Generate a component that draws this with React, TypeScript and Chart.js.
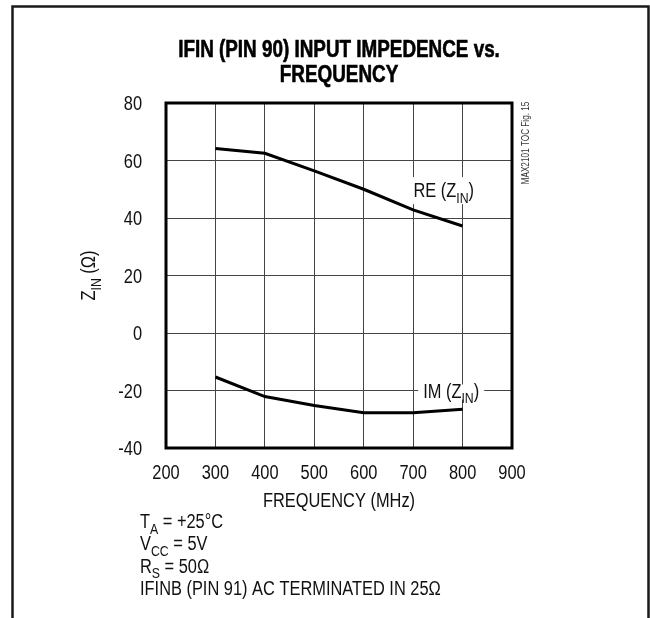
import React, { useEffect, useRef } from "react";
import { Chart, registerables } from "chart.js";

Chart.register(...registerables);

// ---- data ----
const frequencies = [300, 400, 500, 600, 700, 800];
const reZin = [64.2, 62.5, 56.4, 50, 42.8, 37.2];
const imZin = [-15.3, -22.1, -25.2, -27.7, -27.7, -26.5];
const xTickValues = [200, 300, 400, 500, 600, 700, 800, 900];
const yTickValues = [-40, -20, 0, 20, 40, 60, 80];

const titleLines = ["IFIN (PIN 90) INPUT IMPEDENCE vs.", "FREQUENCY"];
const xAxisTitle = "FREQUENCY (MHz)";
const sideNote = "MAX2101 TOC Fig. 15";

type Part = { t: string; sub?: boolean };
const yAxisTitle: Part[] = [{ t: "Z" }, { t: "IN", sub: true }, { t: " (Ω)" }];
const reLabel: Part[] = [{ t: "RE (Z" }, { t: "IN", sub: true }, { t: ")" }];
const imLabel: Part[] = [{ t: "IM (Z" }, { t: "IN", sub: true }, { t: ")" }];
const footnotes: Part[][] = [
  [{ t: "T" }, { t: "A", sub: true }, { t: " = +25°C" }],
  [{ t: "V" }, { t: "CC", sub: true }, { t: " = 5V" }],
  [{ t: "R" }, { t: "S", sub: true }, { t: " = 50Ω" }],
  [{ t: "IFINB (PIN 91) AC TERMINATED IN 25Ω" }],
];

const FONT = "'Liberation Sans', Arial, sans-serif";
const K = 0.82; // horizontal compression to emulate a narrow face

function measureRich(ctx: CanvasRenderingContext2D, parts: Part[], size: number) {
  const main = `${size}px ${FONT}`;
  const sub = `${Math.round(size * 0.75)}px ${FONT}`;
  return parts.map((p) => {
    ctx.font = p.sub ? sub : main;
    return ctx.measureText(p.t).width * K;
  });
}

function drawNarrow(ctx: CanvasRenderingContext2D, t: string, x: number, y: number) {
  ctx.save();
  ctx.translate(x, y);
  ctx.scale(K, 1);
  ctx.fillText(t, 0, 0);
  ctx.restore();
}

function drawRich(
  ctx: CanvasRenderingContext2D,
  parts: Part[],
  x: number,
  y: number,
  align: "left" | "center" | "right",
  size: number
) {
  const main = `${size}px ${FONT}`;
  const sub = `${Math.round(size * 0.75)}px ${FONT}`;
  const widths = measureRich(ctx, parts, size);
  const total = widths.reduce((a, b) => a + b, 0);
  let cx = align === "center" ? x - total / 2 : align === "right" ? x - total : x;
  ctx.textAlign = "left";
  ctx.textBaseline = "alphabetic";
  parts.forEach((p, i) => {
    ctx.font = p.sub ? sub : main;
    drawNarrow(ctx, p.t, cx, y + (p.sub ? size * 0.28 : 0));
    cx += widths[i];
  });
  return total;
}

const decorPlugin = {
  id: "decor",
  beforeDraw(chart: any) {
    const ctx: CanvasRenderingContext2D = chart.ctx;
    ctx.save();
    ctx.fillStyle = "#fff";
    ctx.fillRect(0, 0, chart.width, chart.height);
    ctx.strokeStyle = "#1a1a1a";
    ctx.lineWidth = 2.5;
    ctx.strokeRect(12.5, 6.5, 636, 700);
    ctx.restore();
  },
  afterDatasetsDraw(chart: any) {
    const ctx: CanvasRenderingContext2D = chart.ctx;
    const { left, right, top, bottom } = chart.chartArea;
    const xs = chart.scales.x;
    const ys = chart.scales.y;
    ctx.save();
    ctx.fillStyle = "#111";

    // curve labels with white backing
    const labels = [
      { parts: reLabel, x: 762, y: 49.7, padX: 5, padTop: 13, padBot: 14 },
      { parts: imLabel, x: 777, y: -20, padX: 5, padTop: 6, padBot: 9 },
    ];
    labels.forEach((l) => {
      const px = xs.getPixelForValue(l.x);
      const py = ys.getPixelForValue(l.y);
      const w = measureRich(ctx, l.parts, 20).reduce((a, b) => a + b, 0);
      ctx.fillStyle = "#fff";
      ctx.fillRect(px - w / 2 - l.padX, py - l.padTop, w + 2 * l.padX, l.padTop + l.padBot);
      ctx.fillStyle = "#111";
      drawRich(ctx, l.parts, px, py + 7, "center", 20);
    });

    // plot border
    ctx.strokeStyle = "#000";
    ctx.lineWidth = 3;
    ctx.strokeRect(left, top, right - left, bottom - top);

    // tick labels
    ctx.fillStyle = "#111";
    xTickValues.forEach((v) => {
      drawRich(ctx, [{ t: String(v) }], xs.getPixelForValue(v), bottom + 31, "center", 20);
    });
    yTickValues.forEach((v) => {
      drawRich(ctx, [{ t: String(v) }], left - 24, ys.getPixelForValue(v) + 7, "right", 20);
    });

    // x axis title
    drawRich(ctx, [{ t: xAxisTitle }], (left + right) / 2, bottom + 59, "center", 20);

    // title
    const cx = (left + right) / 2;
    ctx.fillStyle = "#000";
    ctx.strokeStyle = "#000";
    ctx.lineWidth = 0.6;
    ctx.textAlign = "center";
    ctx.textBaseline = "alphabetic";
    ctx.font = `bold 23px ${FONT}`;
    titleLines.forEach((line, i) => {
      ctx.save();
      ctx.translate(cx, 57 + i * 24.5);
      ctx.scale(K, 1);
      ctx.fillText(line, 0, 0);
      ctx.strokeText(line, 0, 0);
      ctx.restore();
    });

    // y axis title (rotated)
    ctx.fillStyle = "#111";
    ctx.save();
    ctx.translate(88, (top + bottom) / 2);
    ctx.rotate(-Math.PI / 2);
    drawRich(ctx, yAxisTitle, 0, 7, "center", 20);
    ctx.restore();

    // side note
    ctx.save();
    ctx.translate(right + 14, top + 40);
    ctx.rotate(-Math.PI / 2);
    ctx.fillStyle = "#333";
    drawRich(ctx, [{ t: sideNote }], 0, 3, "center", 10);
    ctx.restore();

    // footnotes
    ctx.fillStyle = "#111";
    footnotes.forEach((f, i) => {
      drawRich(ctx, f, 140, 528 + i * 22.3, "left", 20);
    });
    ctx.restore();
  },
};

export default function App() {
  const ref = useRef<HTMLCanvasElement | null>(null);
  useEffect(() => {
    if (!ref.current) return;
    const chart = new Chart(ref.current, {
      type: "line",
      data: {
        datasets: [
          {
            label: "RE (ZIN)",
            data: frequencies.map((f, i) => ({ x: f, y: reZin[i] })),
            borderColor: "#000",
            borderWidth: 3,
            pointRadius: 0,
            tension: 0,
          },
          {
            label: "IM (ZIN)",
            data: frequencies.map((f, i) => ({ x: f, y: imZin[i] })),
            borderColor: "#000",
            borderWidth: 3,
            pointRadius: 0,
            tension: 0,
          },
        ],
      },
      options: {
        animation: false,
        responsive: false,
        devicePixelRatio: 1,
        layout: { padding: { left: 106, right: 138, top: 103, bottom: 108 } },
        plugins: {
          legend: { display: false },
          title: { display: false },
          tooltip: { enabled: false },
        },
        scales: {
          x: {
            type: "linear",
            min: xTickValues[0],
            max: xTickValues[xTickValues.length - 1],
            afterBuildTicks: (s: any) => {
              s.ticks = xTickValues.map((v) => ({ value: v }));
            },
            ticks: { display: false, autoSkip: false },
            grid: { color: "#444", lineWidth: 1, drawTicks: false },
            border: { display: false },
            afterFit: (s: any) => {
              s.height = 62;
            },
          },
          y: {
            type: "linear",
            min: yTickValues[0],
            max: yTickValues[yTickValues.length - 1],
            afterBuildTicks: (s: any) => {
              s.ticks = yTickValues.map((v) => ({ value: v }));
            },
            ticks: { display: false, autoSkip: false },
            grid: { color: "#444", lineWidth: 1, drawTicks: false },
            border: { display: false },
            afterFit: (s: any) => {
              s.width = 60;
            },
          },
        },
      } as any,
      plugins: [decorPlugin],
    });
    return () => chart.destroy();
  }, []);

  return (
    <div style={{ position: "absolute", left: 0, top: 0, width: 650, height: 618, background: "#fff" }}>
      <canvas ref={ref} width={650} height={618} style={{ width: 650, height: 618, display: "block" }} />
    </div>
  );
}
